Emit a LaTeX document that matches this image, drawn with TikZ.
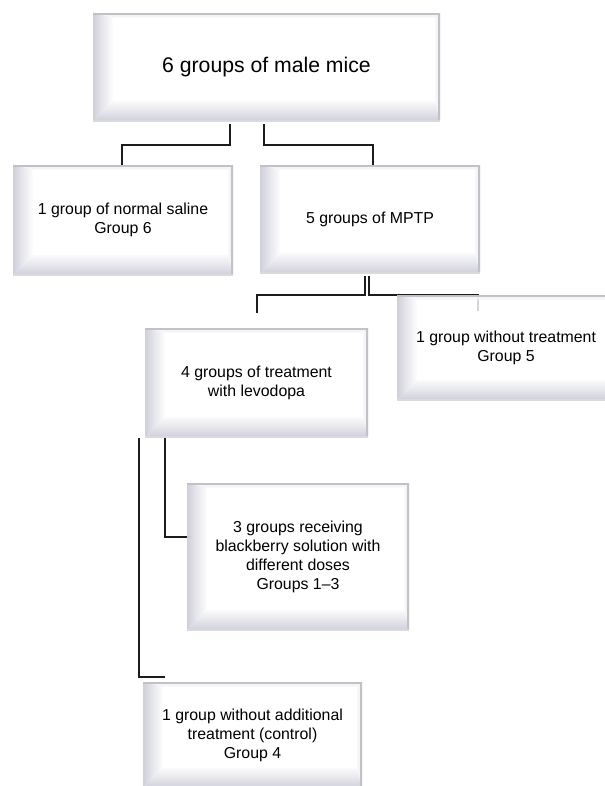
\documentclass[tikz,border=0pt]{standalone}
\usepackage{fontspec}
\setmainfont{Liberation Sans}
\usetikzlibrary{calc,backgrounds}
\definecolor{bevdark}{RGB}{198,198,212}
\definecolor{bevedge}{RGB}{192,194,200}
\definecolor{bevlight}{RGB}{244,244,247}
\definecolor{connc}{RGB}{28,28,28}
\def\pxu{0.75pt}
\tikzset{
  bevbox/.style={shape=rectangle, inner sep=0pt, fill=white, fill opacity=0.82,
    text opacity=1, align=center, text=black,
    font=\fontsize{11.9}{14.25}\selectfont,
    path picture={
      \coordinate (ppsw) at (path picture bounding box.south west);
      \coordinate (ppne) at (path picture bounding box.north east);
      \coordinate (ppnw) at (path picture bounding box.north west);
      \coordinate (ppse) at (path picture bounding box.south east);
      \coordinate (isw) at ([shift={(15pt,15pt)}]ppsw);
      \coordinate (ine) at ([shift={(-3.5pt,-3.5pt)}]ppne);
      \coordinate (inw) at (isw |- ine);
      \coordinate (ise) at (ine |- isw);
      \fill[bevlight] (ppnw) -- (ppne) -- (ine) -- (inw) -- cycle;
      \fill[bevlight] (ppne) -- (ppse) -- (ise) -- (ine) -- cycle;
      \shade[left color=bevdark, right color=white] (ppsw) -- (ppnw) -- (inw) -- (isw) -- cycle;
      \shade[bottom color=bevdark, top color=white!92!bevdark] (ppsw) -- (isw) -- (ise) -- (ppse) -- cycle;
      \draw[bevedge, line width=2.4pt] (ppnw) -- (ppne) -- (ppse);
      \draw[bevedge!60, line width=1.2pt] (ppsw) -- (ppse);
    }},
  conn/.style={draw=connc, line width=1.5pt}
}
\begin{document}
\begin{tikzpicture}[x=0.75pt, y=-0.75pt]
\useasboundingbox (0,0) rectangle (605,786);
\clip (0,0) rectangle (605,786);

\node[bevbox, minimum width=347*\pxu, minimum height=108*\pxu,
      font=\fontsize{15.9}{19}\selectfont] (B1) at (266.5,67) {6 groups of male mice};
\node[bevbox, minimum width=220*\pxu, minimum height=110*\pxu] (B2) at (123,220)
      {1 group of normal saline\\Group 6};
\node[bevbox, minimum width=220*\pxu, minimum height=108*\pxu] (B3) at (370,219)
      {5 groups of MPTP};
\node[bevbox, minimum width=223*\pxu, minimum height=109*\pxu] (B4) at (256.5,382.5)
      {4 groups of treatment\\with levodopa};
\node[bevbox, minimum width=218*\pxu, minimum height=105*\pxu] (B5) at (506,347.5)
      {1 group without treatment\\Group 5};
\node[bevbox, minimum width=222*\pxu, minimum height=147*\pxu] (B6) at (298,556.5)
      {3 groups receiving\\blackberry solution with\\different doses\\Groups 1--3};
\node[bevbox, minimum width=219*\pxu, minimum height=106*\pxu] (B7) at (252.5,735)
      {1 group without additional\\treatment (control)\\Group 4};

\begin{scope}[on background layer]
  \draw[conn] ($(B1.south)+(-36.5,3)$) |- ($(B2.north)+(-1,-20)$) -- ($(B2.north)+(-1,0)$);
  \draw[conn] ($(B1.south)+(-2.5,3)$) |- ($(B3.north)+(3,-20)$) -- ($(B3.north)+(3,0)$);
  \draw[conn] ($(B3.south)+(-5,3)$) |- ($(B4.north)+(0,-33)$) -- ($(B4.north)+(0,-15)$);
  \draw[conn] ($(B3.south)+(-1,3)$) |- ($(B5.north)+(-28,0)$) -- ($(B5.north)+(-28,16)$);
  \draw[conn] ($(B4.south)+(-91.5,1)$) |- ($(B6.west)+(5,-19.5)$);
  \draw[conn] ($(B4.south)+(-117.5,1)$) |- ($(B7.north west)+(22,-5)$);
\end{scope}
\end{tikzpicture}
\end{document}
